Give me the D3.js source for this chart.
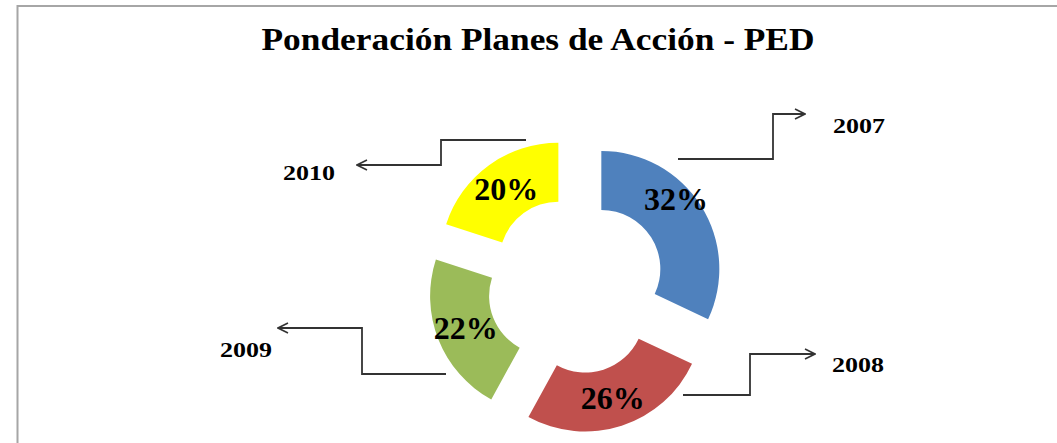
<!DOCTYPE html>
<html>
<head>
<meta charset="utf-8">
<script src="https://cdn.jsdelivr.net/npm/d3@7"></script>
<style>
  body { margin: 0; background: #fff; }
  svg { display: block; }
</style>
</head>
<body>
<div id="container"></div>
<script>
"use strict";

// data
const years = ["2007", "2008", "2009", "2010"];
const shares = [32, 26, 22, 20];
const sliceColors = ["#4F81BD", "#C0504D", "#9BBB59", "#FFFF00"];
const title = "Ponderación Planes de Acción - PED";

const width = 1057, height = 443;
const cx = 576, cy = 285;          // ring centre
const outerR = 118, innerR = 59;
const explode = 30;                // distance each slice is pulled out

// leader lines (elbow connectors), relative to ring centre
// pts = polyline, label = anchor for the year text
const leaders = {
  "2007": { pts: [[102, -126], [197, -126], [197, -171], [229, -171]], label: [257, -160], anchor: "start" },
  "2008": { pts: [[107, 110], [174, 110], [174, 69], [239, 69]], label: [256, 79], anchor: "start" },
  "2009": { pts: [[-130, 89], [-214, 89], [-214, 43], [-298, 43]], label: [-304, 64], anchor: "end" },
  "2010": { pts: [[-50, -145], [-135, -145], [-135, -120], [-219, -120]], label: [-241, -113], anchor: "end" }
};
// per label vertical nudge (the 32% label sits higher in the original)
const labelNudge = { "2007": -22 };

const svg = d3.select("#container")
  .append("svg")
  .attr("width", width)
  .attr("height", height);

svg.append("rect")
  .attr("width", width)
  .attr("height", height)
  .attr("fill", "#fff");

// chart area border (continues past the right / bottom edge)
svg.append("rect")
  .attr("x", 17.5)
  .attr("y", 6)
  .attr("width", width + 20)
  .attr("height", height + 20)
  .attr("fill", "none")
  .attr("stroke", "#a6a6a6")
  .attr("stroke-width", 2);

// title
svg.append("text")
  .attr("x", 538)
  .attr("y", 50)
  .attr("text-anchor", "middle")
  .attr("textLength", 553)
  .attr("lengthAdjust", "spacingAndGlyphs")
  .style("font-family", "'Liberation Serif', serif")
  .style("font-weight", "bold")
  .style("font-size", "31px")
  .style("fill", "#000")
  .text(title);

const rows = years.map((y, i) => ({ year: y, share: shares[i], color: sliceColors[i] }));

const pie = d3.pie().sort(null).value(d => d.share);
const arc = d3.arc().innerRadius(innerR).outerRadius(outerR);
const arcs = pie(rows);

function offset(d) {
  const mid = (d.startAngle + d.endAngle) / 2;
  return [explode * Math.sin(mid), -explode * Math.cos(mid)];
}

const ring = svg.append("g").attr("transform", `translate(${cx},${cy})`);

const slices = ring.selectAll("g.slice")
  .data(arcs)
  .enter()
  .append("g")
    .attr("class", "slice")
    .attr("transform", d => { const o = offset(d); return `translate(${o[0]},${o[1]})`; });

slices.append("path")
  .attr("d", arc)
  .attr("fill", d => d.data.color);

slices.append("text")
  .attr("x", d => arc.centroid(d)[0])
  .attr("y", d => arc.centroid(d)[1] + (labelNudge[d.data.year] || 0))
  .attr("dy", "0.34em")
  .attr("text-anchor", "middle")
  .style("font-family", "'Liberation Serif', serif")
  .style("font-weight", "bold")
  .style("font-size", "32px")
  .style("fill", "#000")
  .text(d => d.data.share + "%");

// arrow marker (open chevron)
svg.append("defs").append("marker")
  .attr("id", "arrow")
  .attr("viewBox", "0 0 12 12")
  .attr("refX", 11)
  .attr("refY", 6)
  .attr("markerWidth", 12)
  .attr("markerHeight", 12)
  .attr("markerUnits", "userSpaceOnUse")
  .attr("orient", "auto")
  .append("path")
    .attr("d", "M1,1 L11,6 L1,11")
    .attr("fill", "none")
    .attr("stroke", "#333")
    .attr("stroke-width", 1.6);

const line = d3.line();

const notes = ring.selectAll("g.note")
  .data(years)
  .enter()
  .append("g")
    .attr("class", "note");

notes.append("path")
  .attr("d", y => line(leaders[y].pts))
  .attr("fill", "none")
  .attr("stroke", "#333")
  .attr("stroke-width", 1.8)
  .attr("marker-end", "url(#arrow)");

notes.append("text")
  .attr("x", y => leaders[y].label[0])
  .attr("y", y => leaders[y].label[1])
  .attr("dy", "0.36em")
  .attr("text-anchor", y => leaders[y].anchor)
  .attr("textLength", 52)
  .attr("lengthAdjust", "spacingAndGlyphs")
  .style("font-family", "'Liberation Serif', serif")
  .style("font-weight", "bold")
  .style("font-size", "22px")
  .style("fill", "#000")
  .text(y => y);
</script>
</body>
</html>
